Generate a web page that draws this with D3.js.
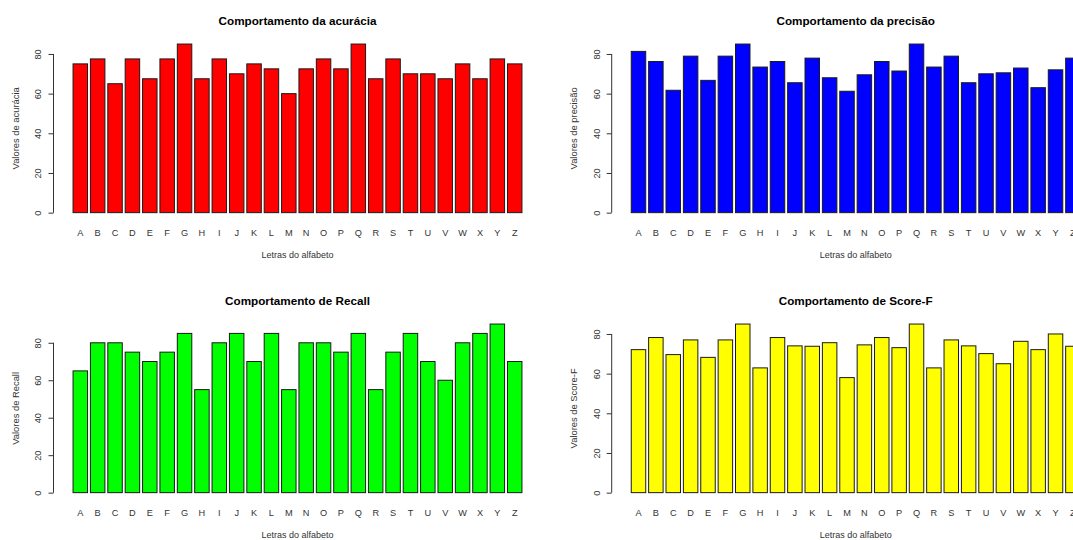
<!DOCTYPE html>
<html>
<head>
<meta charset="utf-8">
<script src="https://cdn.jsdelivr.net/npm/d3@7"></script>
<style>
  html, body { margin: 0; padding: 0; background: #ffffff; }
  svg { display: block; overflow: hidden; }
  text { font-family: "Liberation Sans", Arial, Helvetica, sans-serif; }
</style>
</head>
<body>
<svg id="chart" width="1073" height="540"></svg>
<script>
// Letters of the alphabet used as categories
const letras = ["A","B","C","D","E","F","G","H","I","J","K","L","M",
                "N","O","P","Q","R","S","T","U","V","W","X","Y","Z"];

// Metric values per letter (percent)
const acuracia = [75, 77.5, 65, 77.5, 67.5, 77.5, 85, 67.5, 77.5, 70, 75, 72.5, 60,
                  72.5, 77.5, 72.5, 85, 67.5, 77.5, 70, 70, 67.5, 75, 67.5, 77.5, 75];
const precisao = [81.3, 76.2, 61.7, 78.9, 66.7, 78.9, 85, 73.4, 76.2, 65.5, 77.9, 68, 61.2,
                  69.5, 76.2, 71.4, 85, 73.4, 78.9, 65.5, 70, 70.5, 72.9, 63, 72, 77.9];
const recall   = [65, 80, 80, 75, 70, 75, 85, 55, 80, 85, 70, 85, 55,
                  80, 80, 75, 85, 55, 75, 85, 70, 60, 80, 85, 90, 70];
const scoreF   = [72.1, 78.2, 69.6, 77.0, 68.2, 77.0, 85, 62.9, 78.2, 74.0, 73.8, 75.6, 58.0,
                  74.5, 78.2, 73.1, 85, 62.9, 77.0, 74.0, 70.1, 65.0, 76.3, 72.1, 80.0, 73.8];

// Y axis tick labels
const yTicks = [0, 20, 40, 60, 80];

const titulos = ["Comportamento da acurácia", "Comportamento da precisão",
                 "Comportamento de Recall", "Comportamento de Score-F"];
const rotulosY = ["Valores de acurácia", "Valores de precisão",
                  "Valores de Recall", "Valores de Score-F"];
const rotuloX = "Letras do alfabeto";
const cores = ["#ff0000", "#0000ff", "#00ff00", "#ffff00"];
const series = [acuracia, precisao, recall, scoreF];

// Layout of the 2x2 grid of figures
const figW = 558.2, figH = 280;
const margin = { left: 53.5, top: 37.3 };
const plotW = 488, plotH = 182.1;

const svg = d3.select("#chart");

series.forEach((vals, k) => {
  const col = k % 2, row = Math.floor(k / 2);
  const fig = svg.append("g")
    .attr("transform", `translate(${col * figW},${row * figH})`);
  const g = fig.append("g")
    .attr("transform", `translate(${margin.left},${margin.top})`);

  const maxV = d3.max(vals);
  const y = d3.scaleLinear()
    .domain([-0.04 * maxV, 1.04 * maxV])
    .range([plotH, 0]);
  const x = d3.scaleBand()
    .domain(letras)
    .range([0, plotW])
    .paddingInner(1 / 6)
    .paddingOuter(1.125);

  // bars
  g.selectAll("rect.bar")
    .data(vals)
    .join("rect")
    .attr("class", "bar")
    .attr("x", (d, i) => x(letras[i]))
    .attr("width", x.bandwidth())
    .attr("y", d => y(d))
    .attr("height", d => y(0) - y(d))
    .attr("fill", cores[k])
    .attr("stroke", "#1a1a1a")
    .attr("stroke-width", 1);

  // y axis
  const yAxis = g.append("g")
    .call(d3.axisLeft(y).tickValues(yTicks).tickSize(5).tickPadding(0).tickFormat(d3.format("d")));
  yAxis.select(".domain").remove();
  yAxis.selectAll(".tick line").attr("stroke", "#333");
  yAxis.append("line")
    .attr("x1", 0).attr("x2", 0)
    .attr("y1", y(yTicks[0])).attr("y2", y(yTicks[yTicks.length - 1]))
    .attr("stroke", "#333");
  yAxis.selectAll(".tick text")
    .attr("x", null).attr("dy", null)
    .attr("transform", "translate(-15.2,0) rotate(-90)")
    .attr("text-anchor", "middle")
    .attr("dominant-baseline", "central")
    .attr("fill", "#333")
    .style("font-size", "9.2px")
    .style("font-family", "'Liberation Sans', Arial, sans-serif");

  // category labels under bars
  g.selectAll("text.cat")
    .data(letras)
    .join("text")
    .attr("class", "cat")
    .attr("x", d => x(d) + x.bandwidth() / 2)
    .attr("y", plotH + 13.3)
    .attr("text-anchor", "middle")
    .attr("dominant-baseline", "central")
    .attr("fill", "#333")
    .style("font-size", "9.2px")
    .text(d => d);

  // x axis title
  g.append("text")
    .attr("x", plotW / 2)
    .attr("y", plotH + 35.4)
    .attr("text-anchor", "middle")
    .attr("dominant-baseline", "central")
    .attr("fill", "#333")
    .style("font-size", "9px")
    .text(rotuloX);

  // y axis title
  g.append("text")
    .attr("transform", `translate(-38.5,${plotH / 2}) rotate(-90)`)
    .attr("text-anchor", "middle")
    .attr("dominant-baseline", "central")
    .attr("fill", "#333")
    .style("font-size", "9.4px")
    .text(rotulosY[k]);

  // panel title
  g.append("text")
    .attr("x", plotW / 2)
    .attr("y", -17.3)
    .attr("text-anchor", "middle")
    .attr("dominant-baseline", "central")
    .attr("fill", "#000")
    .style("font-size", "11.7px")
    .style("font-weight", "bold")
    .text(titulos[k]);
});
</script>
</body>
</html>
